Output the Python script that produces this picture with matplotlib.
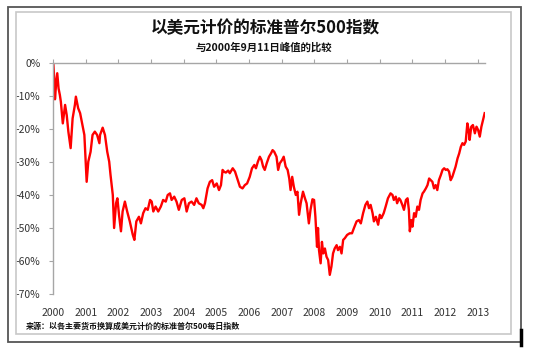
import matplotlib
matplotlib.use("Agg")
import matplotlib.pyplot as plt
from matplotlib.patches import Rectangle
from matplotlib.lines import Line2D
from matplotlib.ticker import FuncFormatter

plt.rcParams['font.family'] = ['Noto Sans CJK SC', 'DejaVu Sans']

title = "以美元计价的标准普尔500指数"
subtitle = "与2000年9月11日峰值的比较"
source = "来源：以各主要货币换算成美元计价的标准普尔500每日指数"

year_labels = [str(y) for y in range(2000, 2014)]
y_ticks = [0, -10, -20, -30, -40, -50, -60, -70]

# years elapsed since the 11 Sep 2000 peak (axis start labelled 2000)
t = [0.01, 0.03, 0.05, 0.06, 0.09, 0.13, 0.17, 0.21, 0.24, 0.30, 0.37, 0.42, 0.47,
     0.54, 0.60, 0.67, 0.70, 0.77, 0.83, 0.90, 0.96, 1.03, 1.08, 1.15, 1.21, 1.28,
     1.35, 1.42, 1.44, 1.52, 1.59, 1.66, 1.72, 1.76, 1.83, 1.87, 1.93, 1.97, 2.02,
     2.08, 2.13, 2.20, 2.27, 2.35, 2.44, 2.49, 2.55, 2.63, 2.69, 2.76, 2.83, 2.90,
     2.97, 3.02, 3.07, 3.14, 3.22, 3.30, 3.37, 3.45, 3.51, 3.58, 3.63, 3.71, 3.78,
     3.85, 3.94, 4.02, 4.09, 4.16, 4.24, 4.32, 4.39, 4.46, 4.55, 4.60, 4.65, 4.73,
     4.80, 4.87, 4.93, 5.01, 5.08, 5.14, 5.19, 5.24, 5.29, 5.36, 5.41, 5.50, 5.57,
     5.64, 5.72, 5.80, 5.87, 5.94, 6.02, 6.09, 6.16, 6.21, 6.27, 6.33, 6.38, 6.43,
     6.48, 6.54, 6.61, 6.67, 6.72, 6.77, 6.84, 6.89, 6.94, 7.01, 7.06, 7.12, 7.18,
     7.23, 7.27, 7.32, 7.37, 7.43, 7.48, 7.53, 7.58, 7.65, 7.71, 7.76, 7.83, 7.88,
     7.94, 7.99, 8.03, 8.08, 8.11, 8.14, 8.19, 8.23, 8.27, 8.32, 8.37, 8.42, 8.47,
     8.52, 8.57, 8.62, 8.68, 8.72, 8.78, 8.83, 8.88, 8.93, 9.00, 9.08, 9.15, 9.21,
     9.29, 9.36, 9.42, 9.49, 9.56, 9.62, 9.67, 9.72, 9.78, 9.82, 9.88, 9.95, 10.00,
     10.05, 10.12, 10.18, 10.25, 10.33, 10.39, 10.43, 10.49, 10.53, 10.59, 10.63,
     10.69, 10.74, 10.80, 10.85, 10.89, 10.92, 10.96, 11.00, 11.05, 11.10, 11.15,
     11.20, 11.25, 11.31, 11.35, 11.41, 11.46, 11.51, 11.56, 11.61, 11.66, 11.71,
     11.76, 11.81, 11.87, 11.92, 11.97, 12.02, 12.07, 12.12, 12.17, 12.22, 12.27,
     12.32, 12.38, 12.43, 12.48, 12.53, 12.58, 12.63, 12.68, 12.72, 12.75, 12.80,
     12.85, 12.91, 12.96, 13.01, 13.06, 13.11, 13.16, 13.21]

pct = [0, -3.6, -6, -11, -7, -3.1, -7.7, -9.7, -11.7, -18.3, -12.7, -15.8, -20.8,
       -25.8, -16.8, -12.7, -10.2, -13.7, -15.2, -18.8, -21.8, -36, -29.9, -26.9, -21.8, -20.8,
       -21.8, -24.3, -21.8, -19.6, -21.8, -26.9, -29.9, -33.9, -40, -50, -42.5, -41, -46,
       -51, -45, -42, -45, -48, -52, -53.6, -48, -46.6, -48.6, -45.5, -44, -44.5,
       -41.5, -42, -45, -43.5, -45, -43.5, -41.5, -42, -40, -39.5, -41.5, -40.5, -42,
       -44.5, -41.5, -41, -45, -42.5, -42, -43, -41, -42.5, -43, -44, -42.5, -38,
       -36, -35.5, -37.5, -36.5, -38.5, -37, -32.4, -33, -33.2, -32.6, -33.4, -31.9, -32.9,
       -35, -37.5, -38, -37, -36.5, -34.5, -31.9, -30.9, -31.9, -29.9, -28.4, -29.4, -31.4,
       -32.4, -30.4, -28.4, -27.4, -26.4, -26.9, -28.4, -32.4, -30.4, -29.4, -28.4, -31.4, -32.4,
       -35, -38.5, -34.5, -37.5, -40, -39, -46, -42.5, -39, -41, -42.5, -48.6, -44.5,
       -41.3, -41.5, -46.6, -55.7, -50, -56.7, -60.7, -54.2, -57.7, -56.2, -58.7, -59.7, -64.2,
       -61.7, -57.7, -56.2, -55.2, -56.7, -55.7, -57.7, -53.6, -53.1, -52.1, -51.6, -51.6, -50,
       -48, -47.6, -48.6, -45.5, -43, -42, -44, -43, -45.5, -48, -46.6, -49, -46,
       -47, -45.5, -43.5, -41, -39.5, -40, -41.5, -40.5, -42.5, -41, -41.5,
       -43, -44.5, -41.5, -41, -44.5, -51, -47.6, -49.6, -45.5, -46.6, -43.5,
       -44.5, -41.5, -39.5, -39, -38, -37, -35, -35.5, -36, -38, -37,
       -38.5, -35.5, -33.9, -32.4, -31.9, -32.4, -32.2, -32.9, -35.5, -34.5, -32.9,
       -31.4, -28.9, -27.4, -25.4, -24.3, -24.8, -23.8, -18.3, -20.3, -23.3, -19.3,
       -18.8, -21.3, -19.3, -20.3, -22.3, -19.3, -17.3, -15.2]

x = [2000 + v for v in t]

W, H = 550, 352
fig = plt.figure(figsize=(W / 100, H / 100), dpi=100)
fig.patch.set_facecolor('white')

# frames
def fx(px):
    return px / W

def fy(py):
    return 1 - py / H

fig.patches.append(Rectangle((fx(8), fy(342)), fx(521) - fx(8), fy(7) - fy(342),
                             transform=fig.transFigure, fill=False,
                             edgecolor='#555555', linewidth=1.3))
fig.patches.append(Rectangle((fx(16), fy(334)), fx(511) - fx(16), fy(12) - fy(334),
                             transform=fig.transFigure, fill=False,
                             edgecolor='#c8c8c8', linewidth=1.2))
fig.lines.append(Line2D([fx(521), fx(521)], [fy(330), fy(345)], transform=fig.transFigure,
                        color='black', linewidth=2.5))

ax = fig.add_axes([fx(53), fy(294), fx(485) - fx(53), fy(63) - fy(294)])
ax.plot(x, pct, color='#ff0000', linewidth=1.7, solid_joinstyle='round')

ax.set_xlim(2000, 2013.22)
ax.set_ylim(-70, 0)
ax.set_yticks(y_ticks)
ax.yaxis.set_major_formatter(FuncFormatter(lambda v, p: f"{int(round(v))}%"))
ax.set_xticks(list(range(2000, 2014)))
ax.set_xticklabels(year_labels)

for s in ['right', 'bottom']:
    ax.spines[s].set_visible(False)
for s in ['left', 'top']:
    ax.spines[s].set_color('#a6a6a6')
    ax.spines[s].set_linewidth(1.0)

ax.tick_params(axis='x', top=True, bottom=False, labeltop=False, labelbottom=True,
               direction='out', length=3, color='#a6a6a6', labelsize=7.5,
               labelcolor='#333333', pad=7)
ax.tick_params(axis='y', left=True, direction='out', length=3, color='#a6a6a6',
               labelsize=7.5, labelcolor='#333333', pad=6)

fig.text(0.482, fy(28), title, ha='center', va='center', fontsize=12, fontweight='bold',
         color='#111111')
fig.text(0.48, fy(47), subtitle, ha='center', va='center', fontsize=7.5, fontweight='bold',
         color='#111111')
fig.text(fx(26), fy(326), source, ha='left', va='center', fontsize=5.8, fontweight='bold',
         color='#111111')

fig.savefig('out.png', dpi=100, facecolor='white')
